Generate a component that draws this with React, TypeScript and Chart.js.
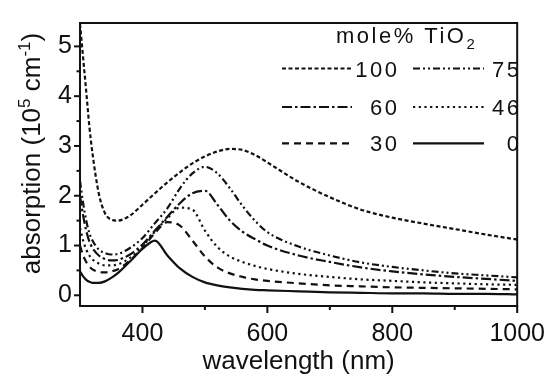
import React, { useEffect, useRef } from "react";
import { Chart, registerables } from "chart.js";

Chart.register(...registerables);

// ---------- data ----------
const wavelengths = [300, 305, 310, 315, 320, 330, 340, 350, 360, 380, 400, 420, 440, 460, 480, 500, 520, 540, 560, 580, 600, 650, 700, 750, 800, 850, 900, 950, 1000];

const abs100 = [5.45, 4.77, 4.09, 3.39, 2.85, 2.05, 1.65, 1.52, 1.5, 1.6, 1.82, 2.05, 2.27, 2.47, 2.65, 2.79, 2.89, 2.94, 2.92, 2.82, 2.67, 2.28, 1.97, 1.72, 1.56, 1.44, 1.33, 1.22, 1.12];
const abs75 = [2.3, 1.85, 1.5, 1.25, 1.1, 0.92, 0.85, 0.82, 0.83, 0.95, 1.15, 1.45, 1.75, 2.15, 2.45, 2.58, 2.45, 2.15, 1.8, 1.5, 1.27, 0.98, 0.8, 0.66, 0.57, 0.5, 0.44, 0.4, 0.36];
const abs60 = [2.0, 1.6, 1.3, 1.08, 0.95, 0.8, 0.73, 0.7, 0.71, 0.82, 1.02, 1.3, 1.58, 1.85, 2.05, 2.1, 1.82, 1.5, 1.28, 1.13, 1.0, 0.8, 0.67, 0.56, 0.48, 0.42, 0.37, 0.33, 0.29];
const abs46 = [1.35, 1.1, 0.92, 0.8, 0.72, 0.64, 0.6, 0.6, 0.62, 0.75, 0.98, 1.28, 1.55, 1.76, 1.72, 1.3, 0.97, 0.78, 0.67, 0.59, 0.53, 0.43, 0.37, 0.32, 0.29, 0.26, 0.24, 0.22, 0.21];
const abs30 = [1.0, 0.8, 0.67, 0.58, 0.52, 0.47, 0.46, 0.48, 0.52, 0.7, 0.95, 1.25, 1.47, 1.4, 1.1, 0.78, 0.56, 0.44, 0.37, 0.32, 0.29, 0.24, 0.2, 0.18, 0.16, 0.15, 0.14, 0.13, 0.12];
const abs0 = [0.48, 0.38, 0.31, 0.27, 0.25, 0.25, 0.28, 0.35, 0.44, 0.68, 0.93, 1.1, 0.8, 0.54, 0.37, 0.26, 0.2, 0.16, 0.13, 0.11, 0.1, 0.08, 0.06, 0.05, 0.04, 0.04, 0.03, 0.03, 0.02];

const seriesLabels = ["100", "75", "60", "46", "30", "0"];
const seriesValues = [abs100, abs75, abs60, abs46, abs30, abs0];

const xTicks = [400, 600, 800, 1000];
const xMinorTicks = [500, 700, 900];
const yTicks = [0, 1, 2, 3, 4, 5];
const yMinorTicks = [0.5, 1.5, 2.5, 3.5, 4.5];

const legendTitle = "mole% TiO";
const legendTitleSub = "2";
const xTitle = "wavelength (nm)";
const yTitleParts = ["absorption (10", "5", " cm", "-1", ")"];

// ---------- styles ----------
const INK = "#111111";
const FONT = "'Liberation Sans', Arial, Helvetica, sans-serif";
const dashes: Record<string, number[]> = {
  "100": [4, 2.5],
  "75": [7, 3, 2, 3, 2, 3],
  "60": [10, 3, 2.5, 3],
  "46": [2.2, 3.5],
  "30": [7, 5],
  "0": [],
};

const framePlugin = {
  id: "framePlugin",
  afterDraw(chart: any) {
    const { ctx, chartArea, scales } = chart;
    const { left, right, top, bottom } = chartArea;
    const xs = scales.x;
    const ys = scales.y;
    ctx.save();
    ctx.strokeStyle = INK;
    ctx.fillStyle = INK;
    ctx.lineWidth = 2;
    ctx.setLineDash([]);
    ctx.strokeRect(left, top, right - left, bottom - top);
    const seg = (x1: number, y1: number, x2: number, y2: number) => {
      ctx.beginPath();
      ctx.moveTo(x1, y1);
      ctx.lineTo(x2, y2);
      ctx.stroke();
    };
    xTicks.forEach((v) => {
      const p = xs.getPixelForValue(v);
      seg(p, bottom, p, bottom + 7);
    });
    xMinorTicks.forEach((v) => {
      const p = xs.getPixelForValue(v);
      seg(p, bottom, p, bottom + 4);
    });
    yTicks.forEach((v) => {
      const p = ys.getPixelForValue(v);
      seg(left - 6, p, left, p);
    });
    yMinorTicks.forEach((v) => {
      const p = ys.getPixelForValue(v);
      seg(left - 3.5, p, left, p);
    });

    // y-axis title with superscripts
    ctx.save();
    const big = `26px ${FONT}`;
    const small = `17px ${FONT}`;
    const fonts = [big, small, big, small, big];
    const rises = [0, -10, 0, -10, 0];
    let total = 0;
    const widths = yTitleParts.map((t, i) => {
      ctx.font = fonts[i];
      const w = ctx.measureText(t).width;
      total += w;
      return w;
    });
    const centerY = 153.5;
    ctx.translate(40, centerY);
    ctx.rotate(-Math.PI / 2);
    ctx.textBaseline = "alphabetic";
    ctx.textAlign = "left";
    let cx = -total / 2;
    yTitleParts.forEach((t, i) => {
      ctx.font = fonts[i];
      ctx.fillText(t, cx, rises[i]);
      cx += widths[i];
    });
    ctx.restore();

    // legend
    ctx.save();
    ctx.textBaseline = "alphabetic";
    const LS = 2.5;
    (ctx as any).letterSpacing = `${LS}px`;
    ctx.font = `22px ${FONT}`;
    ctx.textAlign = "left";
    ctx.fillText(legendTitle, 336, 42.5);
    const tw = ctx.measureText(legendTitle).width;
    ctx.font = `15px ${FONT}`;
    ctx.fillText(legendTitleSub, 336 + tw, 48.5);

    const rows = [
      { y: 68.5, base: 76.5 },
      { y: 107, base: 114.8 },
      { y: 143.3, base: 151 },
    ];
    const cols = [
      { x1: 282, x2: 352, textRight: 397 },
      { x1: 413, x2: 484, textRight: 519 },
    ];
    seriesLabels.forEach((lab, i) => {
      const r = rows[Math.floor(i / 2)];
      const c = cols[i % 2];
      ctx.lineWidth = 2.2;
      ctx.setLineDash(dashes[lab]);
      ctx.beginPath();
      ctx.moveTo(c.x1, r.y);
      ctx.lineTo(c.x2, r.y);
      ctx.stroke();
      ctx.setLineDash([]);
      ctx.font = `22px ${FONT}`;
      ctx.textAlign = "right";
      ctx.fillText(lab, c.textRight + LS, r.base);
    });
    ctx.restore();
    ctx.restore();
  },
};

export default function App() {
  const canvasRef = useRef<HTMLCanvasElement | null>(null);

  useEffect(() => {
    const canvas = canvasRef.current;
    if (!canvas) return;
    const chart = new Chart(canvas, {
      type: "line",
      data: {
        datasets: seriesLabels.map((lab, si) => ({
          label: lab,
          data: wavelengths.map((w, i) => ({ x: w, y: seriesValues[si][i] })),
          borderColor: INK,
          borderWidth: 2.2,
          borderDash: dashes[lab],
          pointRadius: 0,
          fill: false,
          cubicInterpolationMode: "monotone" as const,
        })),
      },
      options: {
        responsive: false,
        animation: false,
        events: [],
        layout: { padding: { top: 15.5, right: 35, left: 0, bottom: 0 } },
        plugins: {
          legend: { display: false },
          tooltip: { enabled: false },
          title: { display: false },
        },
        scales: {
          x: {
            type: "linear",
            min: 300,
            max: 1000,
            afterBuildTicks: (s: any) => {
              s.ticks = xTicks.map((v) => ({ value: v }));
            },
            afterFit: (s: any) => {
              s.height = 71;
            },
            grid: { display: false, drawTicks: false },
            border: { display: false },
            ticks: {
              color: INK,
              font: { family: FONT, size: 25 },
              padding: 13,
              maxRotation: 0,
              autoSkip: false,
              callback: (v: any) => String(v),
            },
            title: {
              display: true,
              text: xTitle,
              color: INK,
              font: { family: FONT, size: 26 },
              padding: { top: 0, bottom: 0 },
            },
          },
          y: {
            type: "linear",
            min: -0.215,
            max: 5.47,
            afterBuildTicks: (s: any) => {
              s.ticks = yTicks.map((v) => ({ value: v }));
            },
            afterFit: (s: any) => {
              s.width = 80;
            },
            grid: { display: false, drawTicks: false },
            border: { display: false },
            ticks: {
              color: INK,
              font: { family: FONT, size: 25 },
              padding: 8,
              callback: (v: any) => String(v),
            },
          },
        },
      },
      plugins: [framePlugin],
    });
    return () => chart.destroy();
  }, []);

  return (
    <div
      style={{
        position: "fixed",
        left: 0,
        top: 0,
        width: 558,
        height: 377,
        background: "#ffffff",
      }}
    >
      <canvas ref={canvasRef} width={558} height={377} style={{ display: "block" }} />
    </div>
  );
}
